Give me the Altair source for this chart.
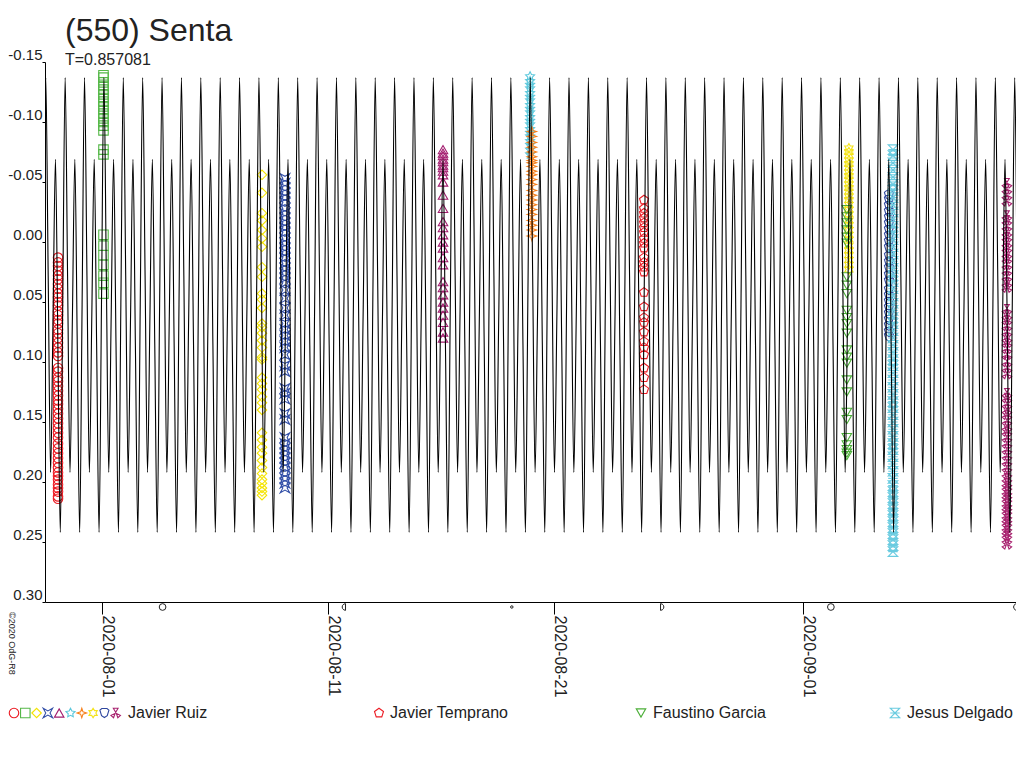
from __future__ import annotations

import altair as alt
import pandas as pd

# model light curve: one rotation, repeated with the period
PERIOD_DAYS = 0.857081
EPOCH = "2020-07-29T12:00:00"  # a primary maximum
PROFILE_PHASE = [0.0, 0.125, 0.25, 0.375, 0.5, 0.625, 0.75, 0.875]
PROFILE_MAG = [-0.137, 0.028, 0.192, 0.062, -0.069, 0.086, 0.242, 0.052]

Y_TICKS = [-0.15, -0.10, -0.05, 0.00, 0.05, 0.10, 0.15, 0.20, 0.25, 0.30]
X_TICKS = [(2020, 8, 1), (2020, 8, 11), (2020, 8, 21), (2020, 9, 1)]

MOON_DATES = ["2020-08-03T15:59:00", "2020-08-11T16:45:00", "2020-08-19T02:42:00",
              "2020-08-25T17:58:00", "2020-09-02T05:22:00", "2020-09-10T09:26:00"]
MOON_PHASES = ["full", "last", "new", "first", "full", "last"]

# observing sessions (mid time, relative magnitudes)
RUIZ_CIRCLE_T = "2020-07-30T01:00:00"
RUIZ_CIRCLE = [0.013, 0.017, 0.020, 0.024, 0.028, 0.031, 0.035, 0.039, 0.043, 0.046, 0.050,
               0.053, 0.058, 0.061, 0.065, 0.068, 0.073, 0.076, 0.080, 0.084, 0.088, 0.092,
               0.095, 0.105, 0.108, 0.113, 0.116, 0.120, 0.124, 0.128, 0.132, 0.135, 0.139,
               0.143, 0.147, 0.151, 0.155, 0.159, 0.163, 0.168, 0.172, 0.176, 0.180, 0.184,
               0.188, 0.192, 0.195, 0.198, 0.202, 0.205, 0.208, 0.212, 0.214]
RUIZ_SQUARE_T = "2020-08-01T01:16:00"
RUIZ_SQUARE = [-0.139, -0.137, -0.133, -0.130, -0.127, -0.123, -0.120, -0.117, -0.113, -0.110,
               -0.107, -0.103, -0.100, -0.097, -0.093, -0.077, -0.073, -0.006, 0.003, 0.011,
               0.019, 0.028, 0.034, 0.043]
RUIZ_DIAMOND_T = "2020-08-08T01:31:00"
RUIZ_DIAMOND = [-0.056, -0.041, -0.024, -0.018, -0.010, -0.003, 0.004, 0.021, 0.029, 0.043,
                0.048, 0.055, 0.068, 0.071, 0.076, 0.082, 0.088, 0.096, 0.098, 0.113, 0.118,
                0.123, 0.129, 0.134, 0.140, 0.159, 0.165, 0.171, 0.176, 0.182, 0.188, 0.193,
                0.198, 0.201, 0.205, 0.208, 0.211]
RUIZ_CONCAVE_T = "2020-08-09T01:55:00"
RUIZ_CONCAVE = [-0.053, -0.049, -0.045, -0.041, -0.037, -0.033, -0.028, -0.024, -0.020, -0.016,
                -0.012, -0.008, -0.003, 0.001, 0.005, 0.009, 0.013, 0.018, 0.022, 0.026, 0.030,
                0.034, 0.040, 0.047, 0.055, 0.061, 0.068, 0.073, 0.078, 0.083, 0.088, 0.094,
                0.103, 0.108, 0.122, 0.126, 0.131, 0.143, 0.148, 0.163, 0.168, 0.172, 0.176,
                0.180, 0.184, 0.188, 0.193, 0.197, 0.201, 0.205]
RUIZ_TRIANGLE_T = "2020-08-16T01:40:00"
RUIZ_TRIANGLE = [-0.077, -0.074, -0.072, -0.069, -0.067, -0.064, -0.062, -0.059, -0.056, -0.050,
                 -0.039, -0.028, -0.017, -0.012, -0.006, 0.000, 0.005, 0.013, 0.019, 0.033,
                 0.038, 0.044, 0.050, 0.055, 0.061, 0.067, 0.075, 0.080]
RUIZ_STAR_T = "2020-08-19T22:05:00"
RUIZ_STAR = [-0.138, -0.134, -0.131, -0.128, -0.124, -0.121, -0.118, -0.114, -0.111, -0.108,
             -0.104, -0.101, -0.098, -0.094, -0.091, -0.088, -0.084, -0.081, -0.077, -0.073]
RUIZ_SPARKLE_T = "2020-08-20T00:00:00"
RUIZ_SPARKLE = [-0.092, -0.088, -0.083, -0.079, -0.075, -0.071, -0.068, -0.066, -0.063, -0.059,
                -0.056, -0.052, -0.048, -0.043, -0.039, -0.035, -0.031, -0.027, -0.023, -0.018,
                -0.014, -0.010, -0.005]
TEMPRANO_T = "2020-08-24T23:00:00"
TEMPRANO = [-0.035, -0.028, -0.024, -0.020, -0.016, -0.012, -0.008, -0.003, 0.001, 0.005, 0.013,
            0.017, 0.021, 0.025, 0.042, 0.054, 0.063, 0.067, 0.075, 0.083, 0.088, 0.094, 0.105,
            0.113, 0.123]
RUIZ_STAR6_T = "2020-09-03T00:29:00"
RUIZ_STAR6 = [-0.078, -0.075, -0.072, -0.068, -0.065, -0.062, -0.058, -0.055, -0.052, -0.048,
              -0.045, -0.042, -0.038, -0.035, -0.031, -0.027, -0.023, -0.018, -0.014, -0.010,
              -0.006, -0.002, 0.003, 0.007, 0.011, 0.015, 0.019, 0.023]
GARCIA_T = "2020-09-02T22:19:00"
GARCIA = [-0.027, -0.021, -0.016, -0.010, -0.004, 0.001, 0.029, 0.036, 0.043, 0.057, 0.063,
          0.068, 0.076, 0.090, 0.096, 0.101, 0.115, 0.125, 0.142, 0.148, 0.163, 0.169, 0.173,
          0.176, 0.178]
RUIZ_SHIELD_T = "2020-09-04T19:00:00"
RUIZ_SHIELD = [-0.039, -0.035, -0.030, -0.025, -0.020, -0.015, -0.010, -0.005, 0.000, 0.005,
               0.012, 0.017, 0.022, 0.028, 0.033, 0.040, 0.045, 0.050, 0.055, 0.060, 0.065,
               0.070, 0.075, 0.079]
DELGADO_T = "2020-09-04T23:17:00"
DELGADO = [-0.077, -0.072, -0.066, -0.060, -0.054, -0.048, -0.043, -0.037, -0.031, -0.025,
           -0.019, -0.013, -0.008, -0.002, 0.004, 0.010, 0.016, 0.022, 0.028, 0.033, 0.039,
           0.045, 0.051, 0.057, 0.063, 0.068, 0.074, 0.080, 0.086, 0.092, 0.098, 0.103, 0.109,
           0.115, 0.121, 0.127, 0.133, 0.138, 0.144, 0.150, 0.156, 0.162, 0.168, 0.173, 0.179,
           0.185, 0.191, 0.197, 0.203, 0.208, 0.213, 0.218, 0.223, 0.228, 0.233, 0.238, 0.243,
           0.248, 0.253, 0.258]
RUIZ_TREFOIL_T = "2020-09-10T00:14:00"
RUIZ_TREFOIL = [-0.049, -0.044, -0.039, -0.034, -0.022, -0.018, -0.013, -0.008, -0.004, 0.001,
                0.005, 0.010, 0.014, 0.019, 0.024, 0.029, 0.034, 0.038, 0.056, 0.061, 0.065,
                0.070, 0.075, 0.080, 0.084, 0.089, 0.094, 0.100, 0.105, 0.110, 0.126, 0.130,
                0.135, 0.140, 0.144, 0.149, 0.154, 0.158, 0.163, 0.168, 0.173, 0.178, 0.183,
                0.188, 0.193, 0.197, 0.201, 0.204, 0.208, 0.211, 0.214, 0.218, 0.221, 0.224,
                0.228, 0.231, 0.234, 0.238, 0.241, 0.244, 0.248, 0.252]

SESSIONS = [
    ("ruiz_circle", RUIZ_CIRCLE_T, RUIZ_CIRCLE),
    ("ruiz_square", RUIZ_SQUARE_T, RUIZ_SQUARE),
    ("ruiz_diamond", RUIZ_DIAMOND_T, RUIZ_DIAMOND),
    ("ruiz_concave", RUIZ_CONCAVE_T, RUIZ_CONCAVE),
    ("ruiz_triangle", RUIZ_TRIANGLE_T, RUIZ_TRIANGLE),
    ("ruiz_star", RUIZ_STAR_T, RUIZ_STAR),
    ("ruiz_sparkle", RUIZ_SPARKLE_T, RUIZ_SPARKLE),
    ("temprano", TEMPRANO_T, TEMPRANO),
    ("ruiz_star6", RUIZ_STAR6_T, RUIZ_STAR6),
    ("garcia", GARCIA_T, GARCIA),
    ("ruiz_shield", RUIZ_SHIELD_T, RUIZ_SHIELD),
    ("delgado", DELGADO_T, DELGADO),
    ("ruiz_trefoil", RUIZ_TREFOIL_T, RUIZ_TREFOIL),
]

# marker styles
SHAPE = {
    "ruiz_circle": "circle",
    "ruiz_square": "square",
    "ruiz_diamond": "diamond",
    "ruiz_concave": "M-1,-1L0,-0.45L1,-1L0.45,0L1,1L0,0.45L-1,1L-0.45,0Z",
    "ruiz_triangle": "triangle-up",
    "ruiz_star": "M0,-1L0.294,-0.405L0.951,-0.309L0.476,0.155L0.588,0.809L0,0.5L-0.588,0.809"
                 "L-0.476,0.155L-0.951,-0.309L-0.294,-0.405Z",
    "ruiz_sparkle": "M0,-1L0.25,-0.25L1,0L0.25,0.25L0,1L-0.25,0.25L-1,0L-0.25,-0.25Z",
    "ruiz_star6": "M0,-1L0.3,-0.5L0.87,-0.5L0.58,0L0.87,0.5L0.3,0.5L0,1L-0.3,0.5L-0.87,0.5"
                  "L-0.58,0L-0.87,-0.5L-0.3,-0.5Z",
    "ruiz_shield": "M-0.95,-0.6L-0.55,-0.95L0.55,-0.95L0.95,-0.6L0.6,0.55L0,0.95L-0.6,0.55Z",
    "ruiz_trefoil": "M0,-0.15L-0.5,-1L0.5,-1Z M0.13,0.08L1,0.5L0.45,1Z M-0.13,0.08L-1,0.5L-0.45,1Z",
    "temprano": "M0,-1L0.951,-0.309L0.588,0.809L-0.588,0.809L-0.951,-0.309Z",
    "garcia": "triangle-down",
    "delgado": "M-1,-1L1,-1L0,0Z M0,0L1,1L-1,1Z M-1,0L1,0",
}
COLOR = {
    "ruiz_circle": "#ec1c24",
    "ruiz_square": "#55b848",
    "ruiz_diamond": "#f4e400",
    "ruiz_concave": "#3450a8",
    "ruiz_triangle": "#a31d6f",
    "ruiz_star": "#5cc8dc",
    "ruiz_sparkle": "#f7801c",
    "ruiz_star6": "#f4e31a",
    "ruiz_shield": "#2f479f",
    "ruiz_trefoil": "#a8226f",
    "temprano": "#ec1c24",
    "garcia": "#4caf38",
    "delgado": "#6acbe0",
}
MOON_STYLE = {
    "full": ("circle", 45),
    "new": ("circle", 6),
    "first": ("M-0.4,-1L0.1,-0.866L0.466,-0.5L0.6,0L0.466,0.5L0.1,0.866L-0.4,1Z", 45),
    "last": ("M0.4,-1L-0.1,-0.866L-0.466,-0.5L-0.6,0L-0.466,0.5L-0.1,0.866L0.4,1Z", 45),
}
MARK_SIZE = 90

FONT = "Liberation Sans"
INK = "#222222"

obs = pd.DataFrame(
    [{"t": t, "mag": m, "series": key} for key, t, mags in SESSIONS for m in mags]
)

epoch = pd.Timestamp(EPOCH)
curve_rows = []
for k in range(-1, 52):
    for ph, m in zip(PROFILE_PHASE, PROFILE_MAG):
        ts = epoch + pd.Timedelta(days=(k + ph) * PERIOD_DAYS)
        curve_rows.append({"t": ts.strftime("%Y-%m-%dT%H:%M:%S"), "mag": m})
curve = pd.DataFrame(curve_rows)

moon = pd.DataFrame({"t": MOON_DATES, "phase": MOON_PHASES})

x_scale = alt.Scale(domain=[alt.DateTime(year=2020, month=7, date=29, hours=11, minutes=11),
                            alt.DateTime(year=2020, month=9, date=10, hours=9, minutes=52)])
x_axis = alt.Axis(
    values=[alt.DateTime(year=y, month=mo, date=d) for y, mo, d in X_TICKS],
    format="%Y-%m-%d", labelAngle=90, labelAlign="left", labelBaseline="alphabetic",
    tickSize=12, labelPadding=1, labelFontSize=16, labelFlush=False, labelOverlap=False,
    title=None, grid=False,
)
y_axis = alt.Axis(
    values=Y_TICKS, labelExpr="(datum.value < 0 ? '-' : '') + format(abs(datum.value), '.2f')",
    tickSize=3, labelPadding=0, labelBaseline="bottom", labelFontSize=15, labelFlush=False,
    labelOverlap=False, title=None, grid=False,
)
X = alt.X("t:T", scale=x_scale, axis=x_axis)
Y = alt.Y("mag:Q", scale=alt.Scale(domain=[-0.15, 0.30], reverse=True, nice=False, zero=False),
          axis=y_axis)

keys = [s[0] for s in SESSIONS]
points = alt.Chart(obs).mark_point(filled=False, size=MARK_SIZE, strokeWidth=1.1, opacity=1).encode(
    x=X,
    y=Y,
    shape=alt.Shape("series:N", scale=alt.Scale(domain=keys, range=[SHAPE[k] for k in keys]), legend=None),
    color=alt.Color("series:N", scale=alt.Scale(domain=keys, range=[COLOR[k] for k in keys]), legend=None),
)

model = alt.Chart(curve).mark_line(color="#000000", strokeWidth=1.1, interpolate="monotone", clip=True).encode(
    x=X, y=Y, order="t:T"
)

moon_layers = [
    alt.Chart(moon).transform_filter(alt.datum.phase == p).mark_point(
        shape=shape, size=size, filled=False, color=INK, strokeWidth=1, opacity=1
    ).encode(x=X, y=alt.value(545))
    for p, (shape, size) in MOON_STYLE.items()
]

one = pd.DataFrame({"a": [0]})


def label(text, x, y, size, angle=0):
    return alt.Chart(one).mark_text(
        text=text, align="left", baseline="alphabetic", font=FONT, fontSize=size, color=INK, angle=angle
    ).encode(x=alt.value(x), y=alt.value(y))


def symbol(key, x, y):
    return alt.Chart(one).mark_point(
        shape=SHAPE[key], color=COLOR[key], filled=False, size=MARK_SIZE, strokeWidth=1.1, opacity=1
    ).encode(x=alt.value(x), y=alt.value(y))


# legend row below the axis
ruiz_keys = ["ruiz_circle", "ruiz_square", "ruiz_diamond", "ruiz_concave", "ruiz_triangle",
             "ruiz_star", "ruiz_sparkle", "ruiz_star6", "ruiz_shield", "ruiz_trefoil"]
legend_layers = [symbol(k, -31 + 11.3 * i, 651) for i, k in enumerate(ruiz_keys)]
legend_layers += [
    label("Javier Ruiz", 83, 656, 16),
    symbol("temprano", 334, 651), label("Javier Temprano", 345, 656, 16),
    symbol("garcia", 596, 651), label("Faustino Garcia", 608, 656, 16),
    symbol("delgado", 850, 651), label("Jesus Delgado", 862, 656, 16),
]

chart = alt.layer(
    points,
    model,
    *moon_layers,
    label("(550) Senta", 20, -21, 32),
    label("T=0.857081", 20, 3, 16),
    label("©2020 OdG-R8", -36, 550, 9, angle=90),
    *legend_layers,
).properties(
    width=971,
    height=540,
    padding={"left": 37, "top": 54, "right": 0, "bottom": 158},
    autosize=alt.AutoSizeParams(type="none"),
).configure_view(stroke=None).configure_axis(
    labelFont=FONT, labelColor=INK, domainColor="#000000", tickColor="#000000"
)

chart.save("out.html", embed_options={"renderer": "svg", "actions": False})
